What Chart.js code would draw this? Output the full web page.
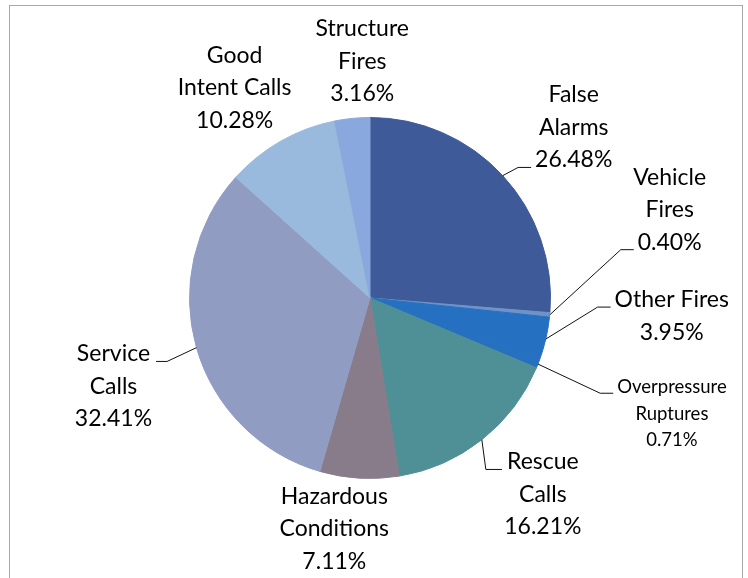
<!DOCTYPE html>
<html>
<head>
<meta charset="utf-8">
<script src="https://cdn.jsdelivr.net/npm/chart.js"></script>
<style>
  html, body { margin: 0; padding: 0; background: #fff; }
  #wrap { position: relative; width: 748px; height: 578px; overflow: hidden; }
  #frame { position: absolute; left: 9px; top: 5px; width: 732px; height: 620px; border: 1px solid #a9a9a9; }
  canvas { position: absolute; left: 0; top: 0; }
</style>
</head>
<body>
<div id="wrap">
  <div id="frame"></div>
  <canvas id="callPie" width="748" height="578"></canvas>
</div>
<script>
// incident types, clockwise from 12 o'clock
const categories = ["False Alarms", "Vehicle Fires", "Other Fires", "Overpressure Ruptures",
  "Rescue Calls", "Hazardous Conditions", "Service Calls", "Good Intent Calls", "Structure Fires"];
const shares = [26.48, 0.40, 3.95, 0.71, 16.21, 7.11, 32.41, 10.28, 3.16];
const nameLines = [["False", "Alarms"], ["Vehicle", "Fires"], ["Other Fires"], ["Overpressure", "Ruptures"],
  ["Rescue", "Calls"], ["Hazardous", "Conditions"], ["Service", "Calls"], ["Good", "Intent Calls"], ["Structure", "Fires"]];
const sliceColors = ["#3f5a99", "#6f93c8", "#2570c0", "#2571bf", "#4f9096",
  "#887c8a", "#909cc2", "#99b9dd", "#89a8de"];

// where each label block sits relative to its slice edge, and its leader line
const labelLayout = [
  { dx: 71, dy: -49, size: 23, lh: 32.5, leader: "left", line: 2 },
  { dx: 120, dy: -106, size: 23, lh: 32.5, leader: "left", line: 2 },
  { dx: 126, dy: -24, size: 23, lh: 32.5, leader: "left", line: 0 },
  { dx: 134, dy: 49, size: 18.5, lh: 26.5, leader: "left", line: 0 },
  { dx: 61, dy: 54, size: 23, lh: 32.5, leader: "down", line: 0 },
  { dx: -25, dy: 50, size: 23, lh: 32.5, leader: null },
  { dx: -83, dy: 38, size: 23, lh: 32.5, leader: "right", line: 0 },
  { dx: -46, dy: -54, size: 23, lh: 32.5, leader: null },
  { dx: 10, dy: -58, size: 23, lh: 32.5, leader: null }
];

const pieLabels = {
  id: "pieLabels",
  afterDatasetsDraw(chart) {
    const ctx = chart.ctx;
    const arcs = chart.getDatasetMeta(0).data;
    ctx.save();
    arcs.forEach((arc, i) => {
      const p = arc.getProps(["x", "y", "startAngle", "endAngle", "outerRadius"], true);
      const mid = (p.startAngle + p.endAngle) / 2;
      const ax = p.x + Math.cos(mid) * p.outerRadius;
      const ay = p.y + Math.sin(mid) * p.outerRadius;
      const lay = labelLayout[i];
      const lines = nameLines[i].concat([shares[i].toFixed(2) + "%"]);
      const lh = lay.lh;
      const cx = ax + lay.dx, cy = ay + lay.dy;
      ctx.font = lay.size + "px Lato";
      ctx.fillStyle = "#000";
      ctx.textAlign = "center";
      ctx.textBaseline = "alphabetic";
      const cap = lay.size * 0.36;
      lines.forEach((t, j) => {
        const ly = cy + (j - (lines.length - 1) / 2) * lh;
        ctx.fillText(t, cx, ly + cap);
      });
      if (lay.leader) {
        const k = lay.line;
        const w = ctx.measureText(lines[k]).width;
        const by = cy + (k - (lines.length - 1) / 2) * lh + cap;
        let ex, elx;
        if (lay.leader === "left") { ex = cx - w / 2 - 4; elx = ex - 13; }
        else if (lay.leader === "right") { ex = cx + w / 2 + 6; elx = ex + 11; }
        else { ex = cx - w / 2 - 5; elx = ax + 4; }
        ctx.strokeStyle = "#111";
        ctx.lineWidth = 1;
        ctx.beginPath();
        ctx.moveTo(ax, ay);
        ctx.lineTo(elx, by);
        ctx.lineTo(ex, by);
        ctx.stroke();
      }
    });
    ctx.restore();
  }
};

new Chart("callPie", {
  type: "pie",
  data: {
    labels: categories,
    datasets: [{
      data: shares,
      backgroundColor: sliceColors,
      borderColor: sliceColors,
      borderWidth: 1
    }]
  },
  options: {
    responsive: false,
    animation: false,
    layout: { padding: { left: 189, right: 197, top: 117, bottom: 99 } },
    plugins: {
      legend: { display: false },
      tooltip: { enabled: false }
    }
  },
  plugins: [pieLabels]
});
</script>
</body>
</html>
